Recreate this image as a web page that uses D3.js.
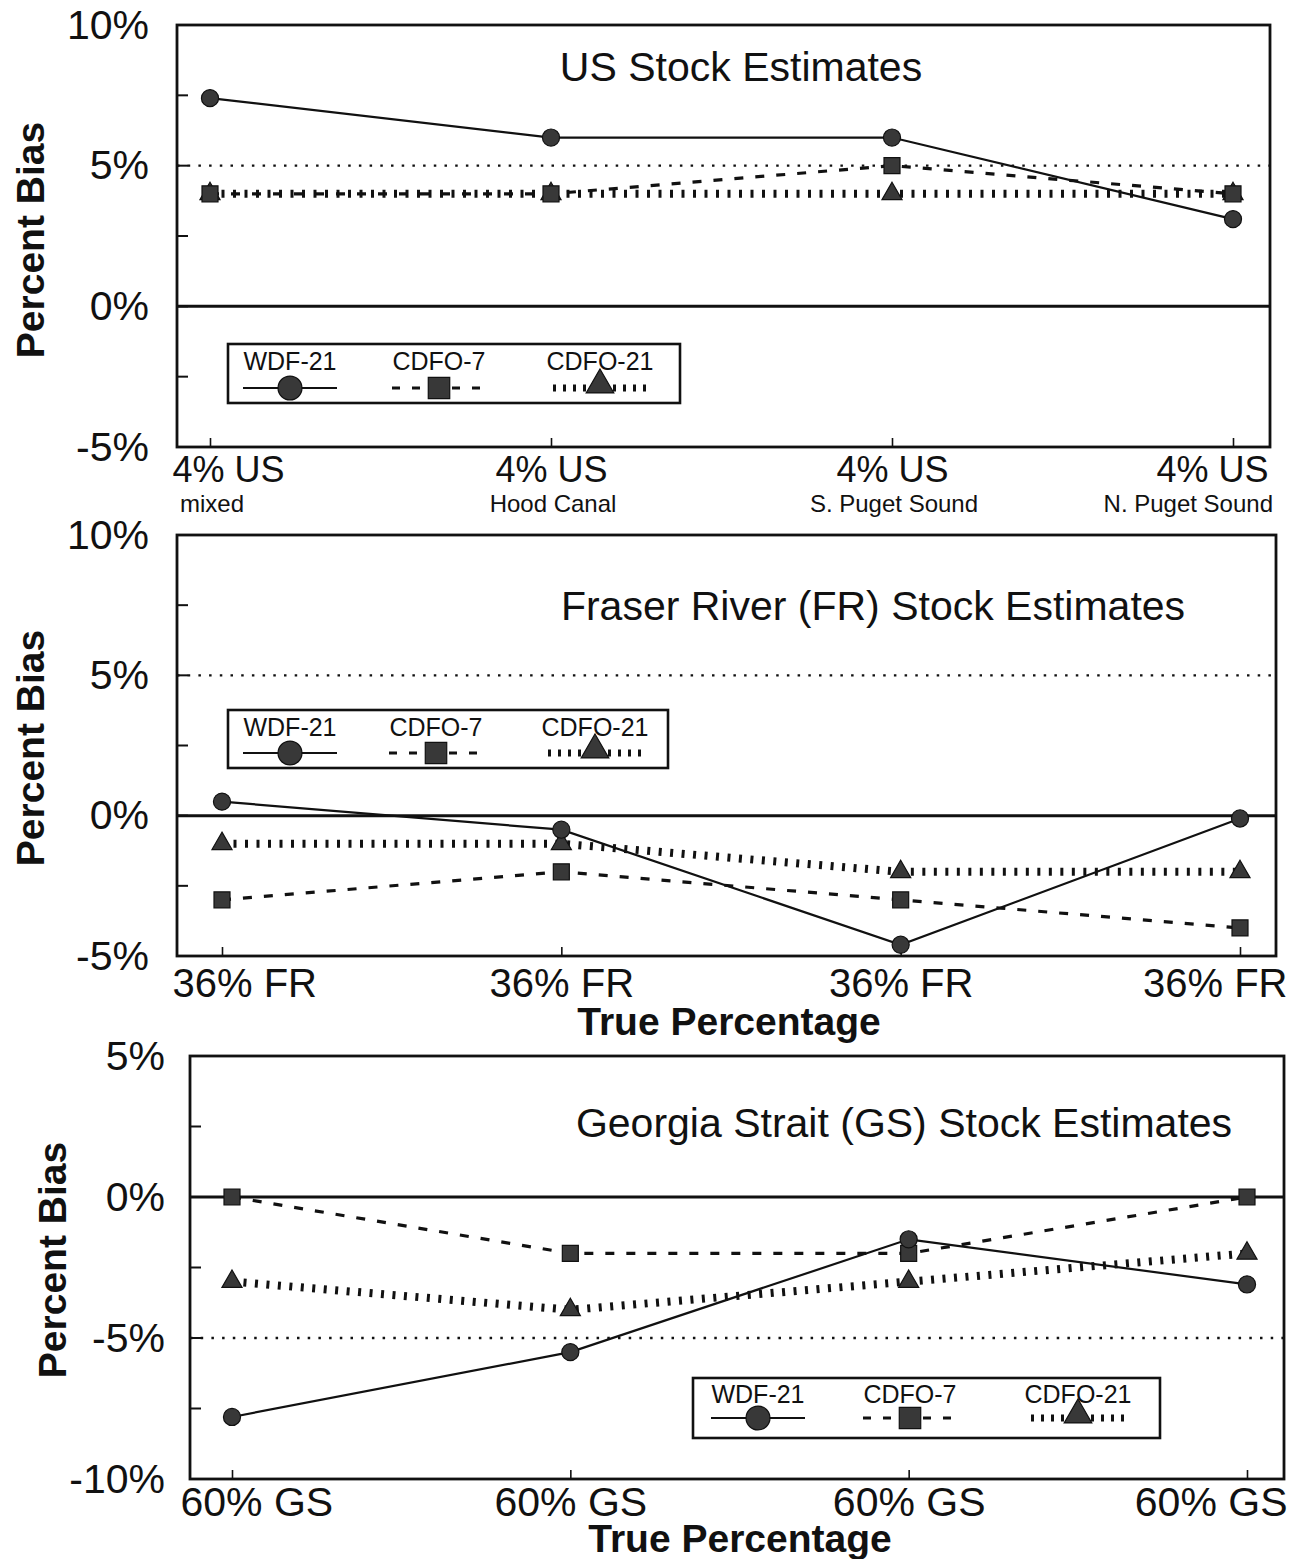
<!DOCTYPE html>
<html>
<head>
<meta charset="utf-8">
<script src="https://cdn.jsdelivr.net/npm/d3@7"></script>
<style>
  body { margin: 0; background: #fff; }
  svg { display: block; font-family: "Liberation Sans", Arial, Helvetica, sans-serif; }
</style>
</head>
<body>
<svg id="chart" width="1299" height="1559"></svg>
<script>
// ---- data -------------------------------------------------------------
const seriesNames = ["WDF-21", "CDFO-7", "CDFO-21"];

// US stock estimates (percent bias)
const usCategories = ["4% US", "4% US", "4% US", "4% US"];
const usSubLabels  = ["mixed", "Hood Canal", "S. Puget Sound", "N. Puget Sound"];
const usWDF21  = [7.4, 6.0, 6.0, 3.1];
const usCDFO7  = [4.0, 4.0, 5.0, 4.0];
const usCDFO21 = [4.0, 4.0, 4.0, 4.0];
const usYTicks = [10, 5, 0, -5];

// Fraser River stock estimates (percent bias)
const frCategories = ["36% FR", "36% FR", "36% FR", "36% FR"];
const frWDF21  = [0.5, -0.5, -4.6, -0.1];
const frCDFO7  = [-3.0, -2.0, -3.0, -4.0];
const frCDFO21 = [-1.0, -1.0, -2.0, -2.0];
const frYTicks = [10, 5, 0, -5];

// Georgia Strait stock estimates (percent bias)
const gsCategories = ["60% GS", "60% GS", "60% GS", "60% GS"];
const gsWDF21  = [-7.8, -5.5, -1.5, -3.1];
const gsCDFO7  = [0.0, -2.0, -2.0, 0.0];
const gsCDFO21 = [-3.0, -4.0, -3.0, -2.0];
const gsYTicks = [5, 0, -5, -10];

// ---- styles -----------------------------------------------------------
const INK = "#111";
const MARK_FILL = "#383838";
const lineStyles = {
  "WDF-21":  { width: 2.2, dash: null },
  "CDFO-7":  { width: 3.2, dash: "9,12" },
  "CDFO-21": { width: 8,   dash: "3,8.5" }
};
const symbolTypes = {
  "WDF-21":  d3.symbolCircle,
  "CDFO-7":  d3.symbolSquare,
  "CDFO-21": d3.symbolTriangle
};
const markerSize = { "WDF-21": 230, "CDFO-7": 256, "CDFO-21": 175 };
const legendMarkerSize = { "WDF-21": 450, "CDFO-7": 460, "CDFO-21": 330 };

const svg = d3.select("#chart");
svg.append("rect").attr("width", 1299).attr("height", 1559).attr("fill", "#fff");

// ---- panel drawing ----------------------------------------------------
function drawPanel(p) {
  const g = svg.append("g");
  const n = p.categories.length;

  const x = d3.scalePoint().domain(d3.range(n)).range(p.xRange);
  const y = d3.scaleLinear().domain(p.yDomain).range([p.frame.bottom, p.frame.top]);

  // reference lines
  g.append("line")
    .attr("x1", p.frame.left).attr("x2", p.frame.right)
    .attr("y1", y(p.dottedAt)).attr("y2", y(p.dottedAt))
    .attr("stroke", INK).attr("stroke-width", 2.4)
    .attr("stroke-dasharray", "2.5,8.2");
  g.append("line")
    .attr("x1", p.frame.left).attr("x2", p.frame.right)
    .attr("y1", y(0)).attr("y2", y(0))
    .attr("stroke", INK).attr("stroke-width", 3);

  // frame
  g.append("rect")
    .attr("x", p.frame.left).attr("y", p.frame.top)
    .attr("width", p.frame.right - p.frame.left)
    .attr("height", p.frame.bottom - p.frame.top)
    .attr("fill", "none").attr("stroke", INK).attr("stroke-width", 2.8);

  // y axis labels
  const yAxis = d3.axisLeft(y).tickValues(p.yTicks)
    .tickFormat(d => d + "%").tickSize(0).tickPadding(p.yPad);
  const ya = g.append("g").attr("transform", `translate(${p.frame.left},0)`).call(yAxis);
  ya.select(".domain").remove();
  ya.selectAll("text").attr("font-size", 41).attr("fill", INK)
    .attr("font-family", "Liberation Sans, Arial, sans-serif");

  // inner ticks on the left edge (every 2.5%)
  const minor = d3.range(p.yDomain[0], p.yDomain[1] + 0.01, 2.5);
  g.append("g").selectAll("line").data(minor).join("line")
    .attr("x1", p.frame.left).attr("x2", p.frame.left + 11)
    .attr("y1", d => y(d)).attr("y2", d => y(d))
    .attr("stroke", INK).attr("stroke-width", 2);

  // x axis: inner ticks and category labels
  const xAxis = d3.axisBottom(x).tickFormat(i => p.categories[i])
    .tickSizeInner(-9).tickSizeOuter(0).tickPadding(0);
  const xa = g.append("g").attr("transform", `translate(0,${p.frame.bottom})`).call(xAxis);
  xa.select(".domain").remove();
  xa.selectAll("line").attr("stroke", INK).attr("stroke-width", 1.6);
  xa.selectAll("text")
    .attr("font-size", p.xFont).attr("fill", INK)
    .attr("font-family", "Liberation Sans, Arial, sans-serif")
    .attr("dy", null)
    .attr("y", p.xLabelBaseline - p.frame.bottom)
    .attr("text-anchor", (d, i) => i === 0 ? "start" : (i === n - 1 ? "end" : "middle"))
    .attr("x", (d, i) => i === 0 ? p.firstLabelX - x(d) : (i === n - 1 ? p.lastLabelX - x(d) : 0));

  if (p.subLabels) {
    g.append("g").selectAll("text").data(p.subLabels).join("text")
      .attr("font-size", 24).attr("fill", INK)
      .attr("y", p.subBaseline)
      .attr("text-anchor", (d, i) => i === 0 ? "start" : (i === n - 1 ? "end" : "middle"))
      .attr("x", (d, i) => i === 0 ? p.subFirstX : (i === n - 1 ? p.subLastX : x(i) + 2))
      .text(d => d);
  }

  if (p.xTitleBaseline) {
    g.append("text").attr("x", p.xTitleX).attr("y", p.xTitleBaseline)
      .attr("text-anchor", "middle").attr("font-size", 39).attr("font-weight", "bold")
      .attr("fill", INK).text("True Percentage");
  }

  // y title
  g.append("text")
    .attr("transform", `translate(${p.yTitleX},${p.yTitleY}) rotate(-90)`)
    .attr("text-anchor", "middle").attr("dominant-baseline", "central")
    .attr("font-size", 39).attr("font-weight", "bold").attr("fill", INK)
    .text("Percent Bias");

  // panel title
  g.append("text").attr("x", p.titleX).attr("y", p.titleBaseline)
    .attr("text-anchor", "middle").attr("font-size", 41).attr("fill", INK)
    .text(p.title);

  // series lines (drawn back to front)
  const order = ["CDFO-21", "CDFO-7", "WDF-21"];
  const line = d3.line().x((d, i) => x(i)).y(d => y(d));
  order.forEach(name => {
    const st = lineStyles[name];
    g.append("path").datum(p.series[name])
      .attr("d", line).attr("fill", "none")
      .attr("stroke", INK).attr("stroke-width", st.width)
      .attr("stroke-dasharray", st.dash);
  });
  order.forEach(name => {
    g.append("g").selectAll("path").data(p.series[name]).join("path")
      .attr("d", d3.symbol().type(symbolTypes[name]).size(markerSize[name]))
      .attr("transform", (d, i) => `translate(${x(i)},${y(d)})`)
      .attr("fill", MARK_FILL).attr("stroke", INK).attr("stroke-width", 1.2);
  });

  // legend
  const L = p.legend;
  const lg = g.append("g");
  lg.append("rect").attr("x", L.x).attr("y", L.y).attr("width", L.w).attr("height", L.h)
    .attr("fill", "#fff").attr("stroke", INK).attr("stroke-width", 2.6);
  seriesNames.forEach((name, k) => {
    const cx = L.centers[k];
    const st = lineStyles[name];
    lg.append("text").attr("x", cx).attr("y", L.textBaseline)
      .attr("text-anchor", "middle").attr("font-size", 25).attr("fill", INK).text(name);
    lg.append("line")
      .attr("x1", cx - 47).attr("x2", cx + 47)
      .attr("y1", L.sampleY).attr("y2", L.sampleY)
      .attr("stroke", INK).attr("stroke-width", name === "CDFO-21" ? 7 : st.width)
      .attr("stroke-dasharray", name === "CDFO-21" ? "3,7" : (name === "CDFO-7" ? "8,12" : null));
    lg.append("path")
      .attr("d", d3.symbol().type(symbolTypes[name]).size(legendMarkerSize[name]))
      .attr("transform", `translate(${cx},${L.sampleY - (name === "CDFO-21" ? 3 : 0)})`)
      .attr("fill", MARK_FILL).attr("stroke", INK).attr("stroke-width", 1.2);
  });
}

// ---- panels -----------------------------------------------------------
drawPanel({
  title: "US Stock Estimates", titleX: 741, titleBaseline: 81,
  categories: usCategories, subLabels: usSubLabels,
  series: { "WDF-21": usWDF21, "CDFO-7": usCDFO7, "CDFO-21": usCDFO21 },
  yTicks: usYTicks, yDomain: [-5, 10], dottedAt: 5,
  frame: { left: 177, right: 1270, top: 25, bottom: 447 },
  xRange: [210, 1233], yPad: 28, xFont: 36,
  xLabelBaseline: 482, firstLabelX: 172, lastLabelX: 1268,
  subBaseline: 512, subFirstX: 180, subLastX: 1273,
  yTitleX: 30, yTitleY: 240,
  legend: { x: 228, y: 344, w: 452, h: 59, textBaseline: 370, sampleY: 388, centers: [290, 439, 600] }
});

drawPanel({
  title: "Fraser River (FR) Stock Estimates", titleX: 873, titleBaseline: 620,
  categories: frCategories,
  series: { "WDF-21": frWDF21, "CDFO-7": frCDFO7, "CDFO-21": frCDFO21 },
  yTicks: frYTicks, yDomain: [-5, 10], dottedAt: 5,
  frame: { left: 177, right: 1276, top: 535, bottom: 956 },
  xRange: [222, 1240], yPad: 28, xFont: 40,
  xLabelBaseline: 997, firstLabelX: 172, lastLabelX: 1287,
  xTitleX: 729, xTitleBaseline: 1035,
  yTitleX: 30, yTitleY: 748,
  legend: { x: 228, y: 710, w: 440, h: 58, textBaseline: 736, sampleY: 753, centers: [290, 436, 595] }
});

drawPanel({
  title: "Georgia Strait (GS) Stock Estimates", titleX: 904, titleBaseline: 1137,
  categories: gsCategories,
  series: { "WDF-21": gsWDF21, "CDFO-7": gsCDFO7, "CDFO-21": gsCDFO21 },
  yTicks: gsYTicks, yDomain: [-10, 5], dottedAt: -5,
  frame: { left: 190, right: 1284, top: 1056, bottom: 1479 },
  xRange: [232, 1247], yPad: 25, xFont: 41,
  xLabelBaseline: 1516, firstLabelX: 180, lastLabelX: 1287,
  xTitleX: 740, xTitleBaseline: 1552,
  yTitleX: 52, yTitleY: 1260,
  legend: { x: 693, y: 1378, w: 467, h: 60, textBaseline: 1403, sampleY: 1418, centers: [758, 910, 1078] }
});
</script>
</body>
</html>
